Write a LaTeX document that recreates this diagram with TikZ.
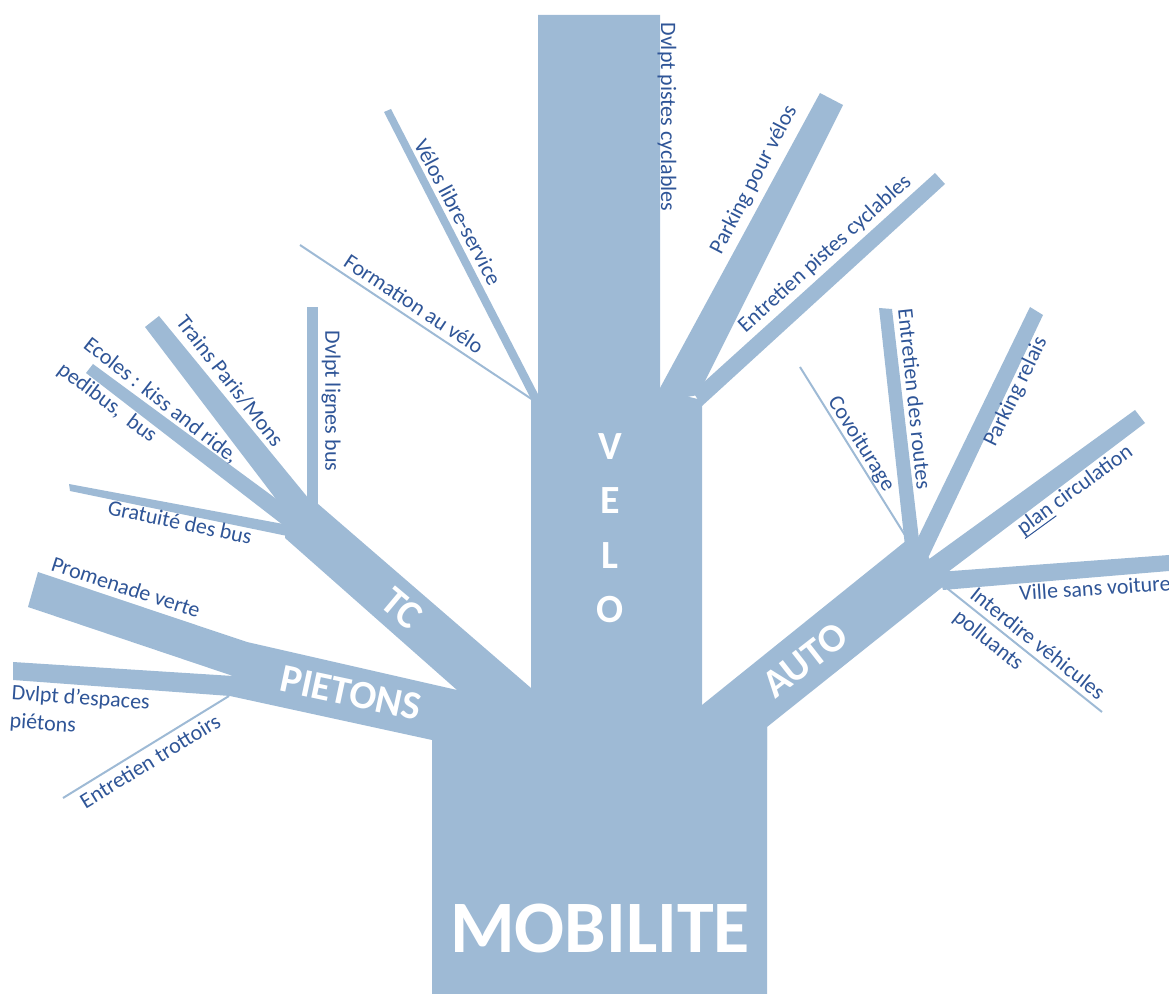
\documentclass[tikz,border=0pt]{standalone}
\usepackage{fontspec}
\setmainfont{Carlito}
\usetikzlibrary{calc}
\definecolor{treeblue}{RGB}{158,186,213}
\definecolor{leafblue}{RGB}{47,85,151}
\tikzset{
  branch/.style={fill=treeblue},
  twig/.style={draw=treeblue, line width=1pt},
  leaf/.style={text=leafblue, font=\fontsize{11}{14}\selectfont, inner sep=0pt},
  bough/.style={text=white, font=\fontsize{20}{24}\selectfont\bfseries, inner sep=0pt},
}
\begin{document}
\begin{tikzpicture}[x=0.5pt,y=-0.5pt]
  \useasboundingbox (0,0) rectangle (1169,994);
  %% trunk and velo stem
  \fill[branch] (432,994) -- (432,740) -- (455,690) -- (531,688) -- (531,400) -- (538,396)
    -- (538,15) -- (660,15) -- (660,390) -- (702,400) -- (702,705) -- (767,727) -- (767,994) -- cycle;
  %% TC and its branches
  \fill[branch] (307,507) -- (317,503) -- (531,688) -- (531,720) -- (470,720) -- (457,690)
    -- (285,538) -- (286,526) -- cycle;
  \fill[branch] (307,307) rectangle (318,512);
  \fill[branch] (145,327) -- (159,316) -- (318,510) -- (298,528) -- cycle;
  \fill[branch] (86,373) -- (93,364) -- (305,520) -- (292,532) -- cycle;
  \fill[branch] (69,484) -- (70,491) -- (292,537) -- (294,526) -- cycle;
  %% PIETONS and its branches
  \fill[branch] (38,572) -- (247,642) -- (457,690) -- (531,700) -- (531,760) -- (432,760)
    -- (432,740) -- (230,696) -- (13,680) -- (13,662) -- (233,676) -- (28,607) -- cycle;
  \draw[twig] (63,798) -- (229,696);
  %% VELO branches
  \fill[branch] (384,112) -- (391,109) -- (540,398) -- (532,401) -- cycle;
  \draw[twig] (300,245) -- (533,400);
  \fill[branch] (820,93) -- (843,105) -- (698,395) -- (660,402) -- (660,388) -- cycle;
  \fill[branch] (935,173) -- (945,184) -- (702,406) -- (693,392) -- cycle;
  %% AUTO and its branches
  \fill[branch] (702,705) -- (907,540) -- (922,546) -- (945,585) -- (767,727) -- (767,760)
    -- (702,760) -- cycle;
  \draw[twig] (800,367) -- (908,540);
  \fill[branch] (879,308) -- (892,309) -- (920,548) -- (905,546) -- cycle;
  \fill[branch] (1030,307) -- (1043,315) -- (928,558) -- (912,550) -- cycle;
  \fill[branch] (1135,410) -- (1145,423) -- (940,578) -- (925,562) -- cycle;
  \fill[branch] (938,572) -- (1169,555) -- (1169,571) -- (943,590) -- cycle;
  \draw[twig] (943,585) -- (1102,712);

  %% white labels
  \foreach \l [count=\i] in {V,E,L,O}
    \node[bough] (velo\i) at (610,{392+54.5*\i}) {\l};
  \node[bough, rotate=-40] (tc) at (402,608) {TC};
  \node[bough, rotate=-12] (pietons) at (351,693) {PIETONS};
  \node[bough, rotate=38] (auto) at (805,660) {AUTO};
  \node[bough, font=\fontsize{37}{44}\selectfont\bfseries] (mobilite) at (600,928) {MOBILITE};

  %% velo
  \node[leaf, rotate=-90] (pistes) at (667,117) {Dvlpt pistes cyclables};
  \node[leaf, rotate=-62] (libre) at (458,212) {Vélos libre-service};
  \node[leaf, rotate=-33.5] (formation) at (414,304) {Formation au vélo};
  \node[leaf, rotate=62.5] (parkvelo) at (754,180) {Parking pour vélos};
  \node[leaf, rotate=42] (entpistes) at (825,254) {Entretien pistes cyclables};
  %% tc
  \node[leaf, rotate=-90] (lignes) at (331,401) {Dvlpt lignes bus};
  \node[leaf, rotate=-52] (trains) at (230,381) {Trains Paris/Mons};
  \node[leaf, rotate=-38] (ecoles) at (161,401) {Ecoles : kiss and ride,};
  \node[leaf, rotate=-37] (pedibus) at (107,403) {pedibus,\ \ bus};
  \node[leaf, rotate=-12] (gratuite) at (180,522) {Gratuité des bus};
  %% pietons
  \node[leaf, rotate=-18] (promenade) at (126,587) {Promenade verte};
  \node[leaf, rotate=-4, anchor=north west, align=left] (espaces) at (12,684) {Dvlpt d’espaces\\piétons};
  \node[leaf, rotate=31.5] (trottoirs) at (150,761) {Entretien trottoirs};
  %% auto
  \node[leaf, rotate=-58] (covoit) at (861,444) {Covoiturage};
  \node[leaf, rotate=-84] (routes) at (915,399) {Entretien des routes};
  \node[leaf, rotate=64] (relais) at (1016,392) {Parking relais};
  \node[leaf, rotate=36] (plan) at (1075,490) {plan circulation};
  \draw[leafblue, line width=0.5pt] ($(plan.base west)!2pt!-90:(plan.base east)$)
    -- ($($(plan.base west)!0.281!(plan.base east)$)!2pt!-90:(plan.base east)$);
  \node[leaf, rotate=4] (ville) at (1095,588) {Ville sans voiture};
  \node[leaf, rotate=-38.6] (interdire) at (1038,643) {Interdire véhicules};
  \node[leaf, rotate=-38.6] (polluants) at (988,641) {polluants};
\end{tikzpicture}
\end{document}
